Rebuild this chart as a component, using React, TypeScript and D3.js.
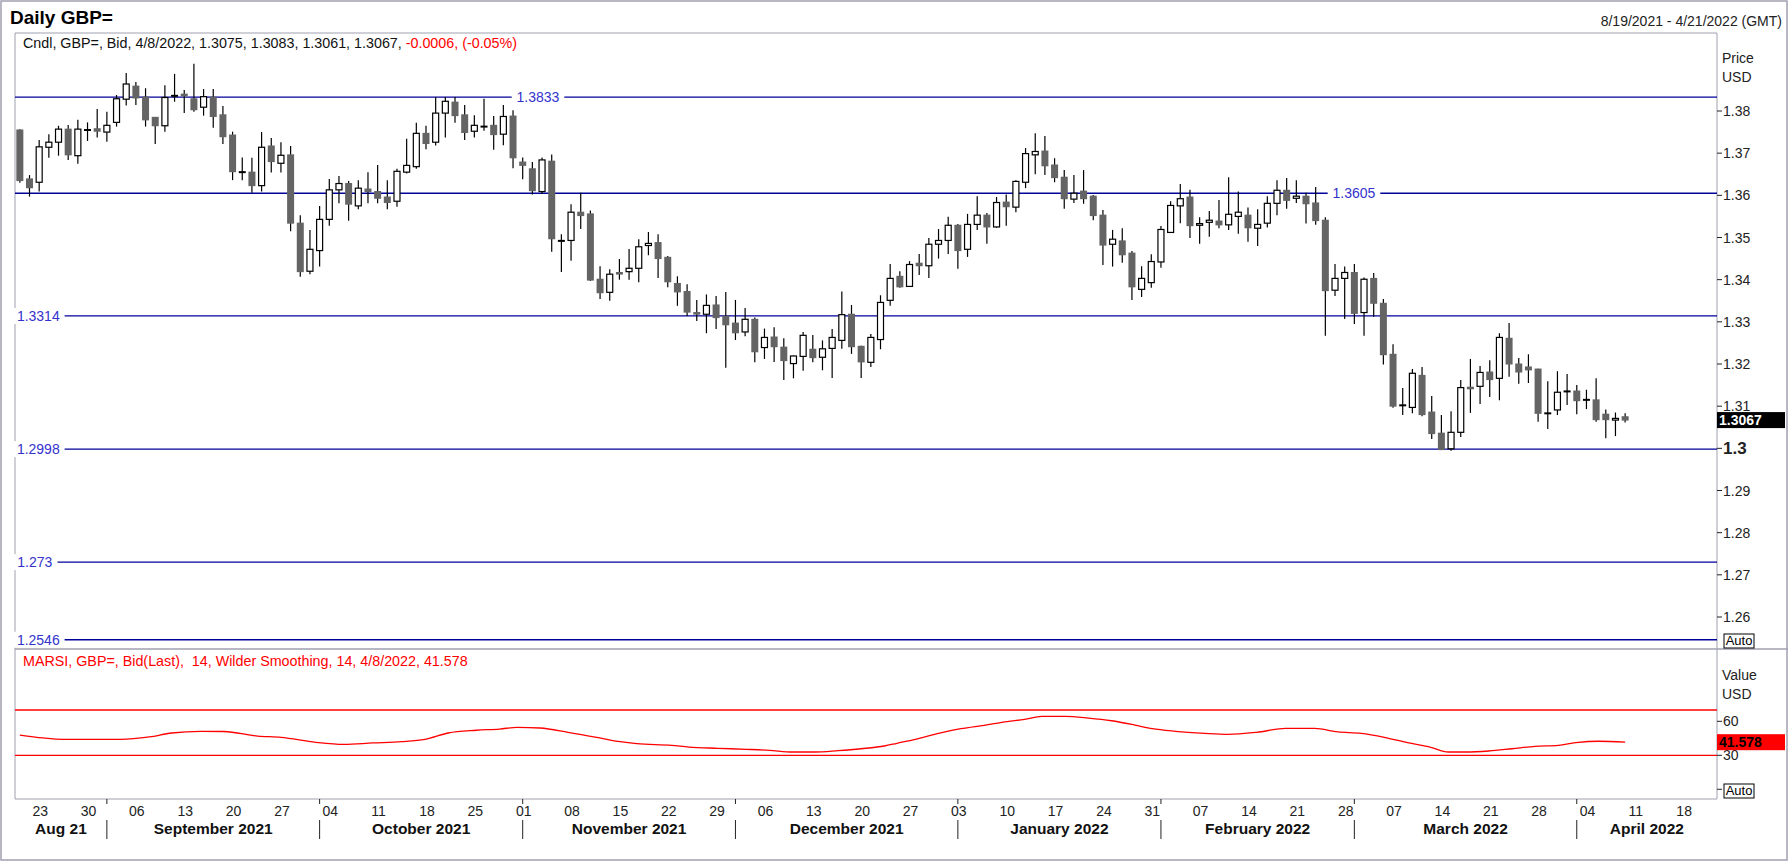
import React from "react";
import * as d3 from "d3";

// ---------- DATA ----------
const firstDay = "2021-08-19";
const lastAxisDay = "2022-04-21";

const candleOpen = [
  1.3755, 1.3639, 1.3631, 1.3714, 1.3726, 1.3757, 1.3694, 1.3755, 1.3758, 1.375,
  1.3773, 1.3828, 1.3859, 1.3833, 1.3785, 1.3765, 1.3836, 1.384, 1.3829, 1.3809,
  1.3833, 1.3791, 1.3743, 1.3655, 1.3655, 1.3623, 1.3717, 1.3676, 1.3696, 1.3534,
  1.342, 1.3469, 1.3543, 1.3613, 1.3628, 1.3575, 1.3615, 1.3609, 1.3596, 1.3586,
  1.3655, 1.3668, 1.3747, 1.3726, 1.3795, 1.3821, 1.3791, 1.3752, 1.3763, 1.3766,
  1.3745, 1.3788, 1.3679, 1.3663, 1.3609, 1.3681, 1.3492, 1.3493, 1.356, 1.3556,
  1.3401, 1.337, 1.3417, 1.3419, 1.3427, 1.3481, 1.3488, 1.3453, 1.3391, 1.3372,
  1.3322, 1.3318, 1.334, 1.3313, 1.3297, 1.3276, 1.3306, 1.3239, 1.3264, 1.324,
  1.3201, 1.3218, 1.3235, 1.3216, 1.3237, 1.3256, 1.3318, 1.3242, 1.3204, 1.3258,
  1.3351, 1.3408, 1.3384, 1.3439, 1.3433, 1.3484, 1.3493, 1.3529, 1.3472, 1.3531,
  1.3553, 1.3525, 1.3584, 1.3572, 1.3631, 1.3696, 1.3705, 1.3672, 1.3643, 1.3591,
  1.361, 1.3598, 1.3553, 1.3484, 1.3492, 1.3463, 1.3377, 1.3393, 1.3442, 1.3512,
  1.3575, 1.3596, 1.3529, 1.3536, 1.3539, 1.353, 1.355, 1.3553, 1.3522, 1.3534,
  1.3581, 1.3612, 1.3593, 1.3598, 1.3582, 1.3541, 1.3375, 1.3403, 1.3417, 1.3322,
  1.3403, 1.3344, 1.3223, 1.3102, 1.3097, 1.3173, 1.3086, 1.3036, 1.2999, 1.3038,
  1.3145, 1.3147, 1.3181, 1.3166, 1.3261, 1.32, 1.3193, 1.3188, 1.3083, 1.3091,
  1.3135, 1.3136, 1.3115, 1.3115, 1.3081, 1.3067, 1.3075,
];
const candleHigh = [
  1.3757, 1.3648, 1.3731, 1.3745, 1.3765, 1.3767, 1.3779, 1.3773, 1.3805, 1.3798,
  1.3838, 1.389, 1.3869, 1.3854, 1.3786, 1.3861, 1.3888, 1.385, 1.3912, 1.3852,
  1.3852, 1.3812, 1.3751, 1.369, 1.3689, 1.375, 1.3736, 1.3726, 1.3717, 1.3553,
  1.3518, 1.3575, 1.3639, 1.3646, 1.3634, 1.3636, 1.3655, 1.3672, 1.3636, 1.3663,
  1.3734, 1.3772, 1.3765, 1.3833, 1.3833, 1.3833, 1.3814, 1.379, 1.3829, 1.3788,
  1.3814, 1.3802, 1.369, 1.3679, 1.369, 1.3697, 1.3508, 1.3579, 1.3606, 1.3564,
  1.3432, 1.3425, 1.3449, 1.3473, 1.3496, 1.3513, 1.3508, 1.3456, 1.3408, 1.3389,
  1.3352, 1.3365, 1.3361, 1.3371, 1.3352, 1.3333, 1.331, 1.3284, 1.3287, 1.3261,
  1.322, 1.3276, 1.3269, 1.3256, 1.3283, 1.3372, 1.334, 1.3243, 1.3271, 1.3363,
  1.3437, 1.342, 1.3444, 1.3461, 1.3499, 1.352, 1.3549, 1.3532, 1.3556, 1.3598,
  1.3558, 1.3596, 1.3602, 1.3636, 1.3712, 1.3747, 1.3741, 1.3688, 1.366, 1.3648,
  1.366, 1.3601, 1.3565, 1.3518, 1.3522, 1.3468, 1.3432, 1.346, 1.3527, 1.3586,
  1.3627, 1.3613, 1.3548, 1.3563, 1.3589, 1.3643, 1.3609, 1.3571, 1.3567, 1.3598,
  1.3636, 1.3641, 1.3636, 1.3606, 1.362, 1.3548, 1.3437, 1.3431, 1.3437, 1.3405,
  1.3416, 1.3354, 1.3247, 1.3143, 1.3188, 1.3193, 1.3124, 1.3079, 1.3088, 1.3162,
  1.3212, 1.3195, 1.3209, 1.3273, 1.3297, 1.3214, 1.3223, 1.3189, 1.3159, 1.3183,
  1.3176, 1.315, 1.3139, 1.3166, 1.3092, 1.3085, 1.3083,
];
const candleLow = [
  1.363, 1.3597, 1.3609, 1.3689, 1.3694, 1.3684, 1.3675, 1.3729, 1.3737, 1.3727,
  1.3763, 1.3813, 1.3814, 1.3763, 1.3722, 1.3751, 1.3822, 1.3795, 1.3798, 1.3789,
  1.376, 1.3722, 1.3636, 1.3636, 1.3606, 1.3609, 1.3654, 1.3654, 1.3515, 1.3407,
  1.3413, 1.3431, 1.3528, 1.3581, 1.354, 1.3567, 1.3581, 1.3581, 1.3567, 1.3573,
  1.3652, 1.3663, 1.3709, 1.3718, 1.3737, 1.3772, 1.3731, 1.3737, 1.3753, 1.3708,
  1.3719, 1.3664, 1.3638, 1.3602, 1.3603, 1.3466, 1.3418, 1.3445, 1.352, 1.3397,
  1.3354, 1.335, 1.34, 1.34, 1.3394, 1.3458, 1.3404, 1.3382, 1.3338, 1.3314,
  1.3302, 1.3273, 1.3283, 1.3191, 1.3257, 1.3266, 1.3204, 1.3212, 1.3205, 1.3162,
  1.3166, 1.3184, 1.3204, 1.3185, 1.3167, 1.3236, 1.3224, 1.3167, 1.3193, 1.3235,
  1.3338, 1.3381, 1.3383, 1.3411, 1.3404, 1.345, 1.3461, 1.3426, 1.3454, 1.3518,
  1.3485, 1.3523, 1.3528, 1.356, 1.3617, 1.365, 1.3648, 1.3631, 1.3568, 1.3582,
  1.358, 1.3541, 1.3435, 1.3431, 1.344, 1.3352, 1.3359, 1.3381, 1.3428, 1.3512,
  1.3534, 1.3499, 1.3485, 1.3502, 1.3522, 1.3518, 1.3509, 1.349, 1.348, 1.3524,
  1.3553, 1.3568, 1.3582, 1.3533, 1.353, 1.3267, 1.3361, 1.3307, 1.3295, 1.3267,
  1.3312, 1.3199, 1.3096, 1.3079, 1.3083, 1.3076, 1.3022, 1.2997, 1.2994, 1.3027,
  1.3084, 1.3105, 1.3122, 1.3114, 1.317, 1.3153, 1.3155, 1.3063, 1.3046, 1.3079,
  1.3103, 1.3081, 1.3093, 1.3063, 1.3024, 1.3029, 1.3061,
];
const candleClose = [
  1.3635, 1.3618, 1.3715, 1.3726, 1.3757, 1.3696, 1.3757, 1.3755, 1.3752, 1.3766,
  1.3829, 1.3864, 1.3831, 1.3779, 1.3765, 1.3832, 1.3836, 1.3836, 1.3803, 1.3834,
  1.3787, 1.3739, 1.3656, 1.3655, 1.3623, 1.3714, 1.368, 1.3695, 1.3534, 1.3419,
  1.3472, 1.3543, 1.3613, 1.3628, 1.3579, 1.3617, 1.3609, 1.3593, 1.3583, 1.3657,
  1.3671, 1.3747, 1.3723, 1.3795, 1.3823, 1.3789, 1.3749, 1.3766, 1.3763, 1.3744,
  1.3787, 1.3689, 1.3671, 1.3611, 1.3684, 1.3497, 1.3492, 1.356, 1.3552, 1.3399,
  1.3369, 1.3413, 1.3415, 1.3427, 1.3478, 1.3486, 1.345, 1.3395, 1.3371, 1.3323,
  1.3319, 1.3339, 1.331, 1.3293, 1.3274, 1.3306, 1.3229, 1.3263, 1.3241, 1.3208,
  1.3219, 1.3268, 1.3215, 1.3236, 1.3263, 1.3317, 1.3241, 1.3205, 1.3263, 1.3346,
  1.3403, 1.3383, 1.3436, 1.3433, 1.3484, 1.3493, 1.3529, 1.3469, 1.3531, 1.3553,
  1.3525, 1.3583, 1.3573, 1.3633, 1.3699, 1.3704, 1.367, 1.3642, 1.3592, 1.3605,
  1.3592, 1.3552, 1.3482, 1.3496, 1.3459, 1.3383, 1.3403, 1.3443, 1.3519, 1.3576,
  1.3592, 1.3528, 1.3533, 1.3541, 1.353, 1.3555, 1.356, 1.3523, 1.3531, 1.3581,
  1.3612, 1.3588, 1.3598, 1.358, 1.354, 1.3374, 1.3403, 1.3417, 1.332, 1.3401,
  1.3344, 1.3222, 1.31, 1.3102, 1.3178, 1.308, 1.3035, 1.2997, 1.3038, 1.3144,
  1.3143, 1.318, 1.3163, 1.3263, 1.32, 1.3181, 1.3186, 1.3083, 1.3083, 1.3133,
  1.3135, 1.3113, 1.3115, 1.3068, 1.3068, 1.3071, 1.3067,
];

const levelValues = [1.3833, 1.3605, 1.3314, 1.2998, 1.273, 1.2546];
const priceTicks = [1.26, 1.27, 1.28, 1.29, 1.3, 1.31, 1.32, 1.33, 1.34, 1.35, 1.36, 1.37, 1.38];

const rsiIndex = [
  0, 2.4, 4.5, 10.4, 13.4, 15.7, 18.7, 21.1, 24.6, 27, 30.6, 33.5, 36.5, 39.5, 41.9,
  44.3, 47.2, 49.6, 51.4, 53.8, 56.7, 59.7, 62.1, 63.8, 67.4, 69.2, 72.2, 75.1, 77.5,
  79.9, 82.2, 84.6, 87, 89.4, 90.7, 92.6, 95, 97.3, 99.7, 102.1, 103.9, 105.7, 108.1,
  110.5, 112.9, 115.3, 117.1, 119.5, 122.5, 124.9, 127.9, 130.9, 133.9, 136.3, 138.7,
  141.1, 143.5, 145.9, 147.7, 149.5, 151.9, 154.3, 156.7, 159.1, 160.9, 163.3, 166,
];
const rsiValue = [
  47.9, 45.3, 44.1, 44.1, 46.2, 49.7, 51.2, 51.0, 47.0, 45.8, 41.5, 39.7, 40.9, 42.0, 44.1,
  49.7, 52.1, 53.2, 54.7, 54.1, 50.3, 45.8, 42.0, 40.3, 38.8, 37.3, 36.2, 35.3, 34.4,
  32.9, 32.9, 34.1, 35.8, 38.2, 40.6, 44.1, 49.4, 53.5, 56.5, 59.7, 61.8, 64.4, 64.4,
  62.9, 60.5, 56.7, 53.5, 51.2, 49.4, 48.5, 50.3, 53.8, 53.8, 50.6, 49.4,
  45.9, 41.1, 37.1, 32.9, 32.9, 33.8, 35.8, 37.9, 38.8, 41.1, 42.4, 41.578,
];
const rsiLevels = [70, 30];
const rsiTicks = [60, 30, 0];

const headerBlack = "Cndl, GBP=, Bid, 4/8/2022, 1.3075, 1.3083, 1.3061, 1.3067, ";
const headerRed = "-0.0006, (-0.05%)";
const rsiHeader = "MARSI, GBP=, Bid(Last),  14, Wilder Smoothing, 14, 4/8/2022, 41.578";

// ---------- COMPONENT ----------
const FONT = "'Liberation Sans', Arial, Helvetica, sans-serif";
const LINE_BLUE = "#00009a";
const LABEL_BLUE = "#3333cc";
const FRAME = "#a0a0b0";

export default function App() {
  const W = 1788;
  const H = 862;
  const left = 15;
  const right = 1717;
  const top = 33;
  const split = 649;
  const bottom = 799;

  const parse = d3.timeParse("%Y-%m-%d");
  const start = parse(firstDay) as Date;
  const end = parse(lastAxisDay) as Date;
  const days = d3.timeDay
    .range(start, d3.timeDay.offset(end, 1))
    .filter((d) => d.getDay() !== 0 && d.getDay() !== 6);

  const x = d3
    .scaleBand<number>()
    .domain(d3.range(days.length))
    .range([left, right])
    .paddingInner(0.28)
    .paddingOuter(0.14);
  const bw = x.bandwidth();
  const xc = (i: number) => (x(Math.floor(i)) as number) + bw / 2 + (i - Math.floor(i)) * x.step();

  const y = d3.scaleLinear().domain([1.26, 1.38]).range([617, 111]);
  const ry = d3.scaleLinear().domain([30, 70]).range([755.3, 710]);

  const candles = candleOpen.map((o, i) => ({
    i,
    o,
    h: candleHigh[i],
    l: candleLow[i],
    c: candleClose[i],
  }));

  const rsiLine = d3
    .line<number>()
    .x((_, k) => xc(rsiIndex[k]))
    .y((v) => ry(v))
    .curve(d3.curveMonotoneX);

  const monthStarts: number[] = [];
  days.forEach((d, i) => {
    if (i > 0 && d.getMonth() !== days[i - 1].getMonth()) monthStarts.push(i);
  });
  const bounds = [left, ...monthStarts.map((i) => xc(i)), right];
  const segStarts = [0, ...monthStarts];
  const mondays = days.map((d, i) => ({ d, i })).filter((o) => o.d.getDay() === 1);

  const levelLabelAt: Record<number, "left" | number> = {
    1.3833: 538,
    1.3605: 1354,
  };

  const lastClose = candleClose[candleClose.length - 1];
  const lastRsi = rsiValue[rsiValue.length - 1];

  return (
    <svg
      width={W}
      height={H}
      style={{ position: "absolute", left: 0, top: 0, background: "#fff" }}
      fontFamily={FONT}
    >
      <rect x={0} y={0} width={W} height={H} fill="#fff" />
      <rect x={1} y={1} width={W - 2} height={859} fill="none" stroke={FRAME} strokeWidth={1.5} />

      <text x={10} y={24} fontSize={19} fontWeight="bold" fill="#000">
        Daily GBP=
      </text>
      <text x={1782} y={26} fontSize={14} textAnchor="end" fill="#222">
        8/19/2021 - 4/21/2022 (GMT)
      </text>

      <line x1={left} x2={right} y1={top} y2={top} stroke={FRAME} />
      <line x1={left} x2={left} y1={top} y2={bottom} stroke={FRAME} />
      <line x1={right} x2={right} y1={top} y2={bottom} stroke={FRAME} />
      <line x1={left} x2={W} y1={split} y2={split} stroke={FRAME} strokeWidth={1.5} />
      <line x1={left} x2={right} y1={bottom} y2={bottom} stroke={FRAME} />

      <text x={23} y={48} fontSize={14.3} fill="#111">
        {headerBlack}
        <tspan fill="#ff0000">{headerRed}</tspan>
      </text>

      {levelValues.map((v) => {
        const yy = y(v);
        const pos = levelLabelAt[v] ?? "left";
        const label = String(v);
        const tw = label.length * 7.1;
        const lx = pos === "left" ? 17 + tw / 2 : (pos as number);
        return (
          <g key={v}>
            <line x1={left} x2={right} y1={yy} y2={yy} stroke={LINE_BLUE} strokeWidth={1.3} />
            <rect x={lx - tw / 2 - 5} y={yy - 8} width={tw + 10} height={16} fill="#fff" />
            <text x={lx} y={yy + 5} fontSize={14} textAnchor="middle" fill={LABEL_BLUE}>
              {label}
            </text>
          </g>
        );
      })}

      {candles.map((k) => {
        const cx = xc(k.i);
        const up = k.c > k.o;
        const doji = k.c === k.o;
        const yt = y(Math.max(k.o, k.c));
        const yb = y(Math.min(k.o, k.c));
        const hgt = Math.max(yb - yt, 1.6);
        return (
          <g key={k.i}>
            <line x1={cx} x2={cx} y1={y(k.h)} y2={y(k.l)} stroke="#000" strokeWidth={1.2} />
            {doji ? (
              <line x1={cx - 3.5} x2={cx + 3.5} y1={yt} y2={yt} stroke="#000" strokeWidth={2} />
            ) : up ? (
              <rect x={cx - 3} y={yt} width={6} height={hgt} fill="#fff" stroke="#000" strokeWidth={1.2} />
            ) : (
              <rect x={cx - 3.5} y={yt - 0.5} width={7} height={hgt + 1} fill="#646464" />
            )}
          </g>
        );
      })}

      <text x={1722} y={63} fontSize={14} fill="#222">Price</text>
      <text x={1722} y={82} fontSize={14} fill="#222">USD</text>
      {priceTicks.map((v) => {
        const yy = y(v);
        const bold = Math.abs(v - 1.3) < 1e-9;
        return (
          <g key={v}>
            <line x1={right} x2={right + 5} y1={yy} y2={yy} stroke="#222" />
            <text
              x={1723}
              y={yy + (bold ? 6 : 5)}
              fontSize={bold ? 17 : 14}
              fontWeight={bold ? "bold" : "normal"}
              fill="#222"
            >
              {String(+v.toFixed(2))}
            </text>
          </g>
        );
      })}
      <rect x={right} y={y(lastClose) - 8} width={68} height={16} fill="#000" />
      <text x={1719} y={y(lastClose) + 5} fontSize={14} fontWeight="bold" fill="#fff">
        {lastClose.toFixed(4)}
      </text>
      <rect x={1724} y={634} width={30} height={14} fill="#fff" stroke="#000" />
      <text x={1739} y={645} fontSize={13} textAnchor="middle" fill="#000">Auto</text>

      <text x={23} y={666} fontSize={14.3} fill="#ff0000" style={{ whiteSpace: "pre" }}>
        {rsiHeader}
      </text>
      {rsiLevels.map((v) => (
        <line key={v} x1={left} x2={right} y1={ry(v)} y2={ry(v)} stroke="#ff0000" strokeWidth={1.3} />
      ))}
      <path d={rsiLine(rsiValue) || ""} fill="none" stroke="#ff0000" strokeWidth={1.3} />
      <text x={1722} y={680} fontSize={14} fill="#222">Value</text>
      <text x={1722} y={699} fontSize={14} fill="#222">USD</text>
      {rsiTicks.map((v) => (
        <g key={v}>
          <line x1={right} x2={right + 5} y1={ry(v)} y2={ry(v)} stroke="#222" />
          {v !== 0 && (
            <text x={1723} y={ry(v) + 5} fontSize={14} fill="#222">{v}</text>
          )}
        </g>
      ))}
      <rect x={right} y={ry(lastRsi) - 8} width={68} height={16} fill="#ff0000" />
      <text x={1719} y={ry(lastRsi) + 5} fontSize={14} fontWeight="bold" fill="#000">
        {lastRsi.toFixed(3)}
      </text>
      <rect x={1724} y={784} width={30} height={14} fill="#fff" stroke="#000" />
      <text x={1739} y={795} fontSize={13} textAnchor="middle" fill="#000">Auto</text>

      {mondays.map((m) => (
        <text key={m.i} x={xc(m.i) + 1} y={816} fontSize={14} textAnchor="middle" fill="#222">
          {d3.timeFormat("%d")(m.d)}
        </text>
      ))}
      {monthStarts.map((i) => (
        <g key={i}>
          <line x1={xc(i)} x2={xc(i)} y1={bottom} y2={bottom + 5} stroke="#222" />
          <line x1={xc(i)} x2={xc(i)} y1={820} y2={839} stroke="#222" />
        </g>
      ))}
      {segStarts.map((si, k) => {
        const a = bounds[k];
        const b = bounds[k + 1];
        const fmt = b - a < 110 ? "%b %y" : "%B %Y";
        return (
          <text
            key={si}
            x={(a + b) / 2}
            y={834}
            fontSize={15.5}
            fontWeight="bold"
            textAnchor="middle"
            fill="#111"
          >
            {d3.timeFormat(fmt)(days[si])}
          </text>
        );
      })}
    </svg>
  );
}
